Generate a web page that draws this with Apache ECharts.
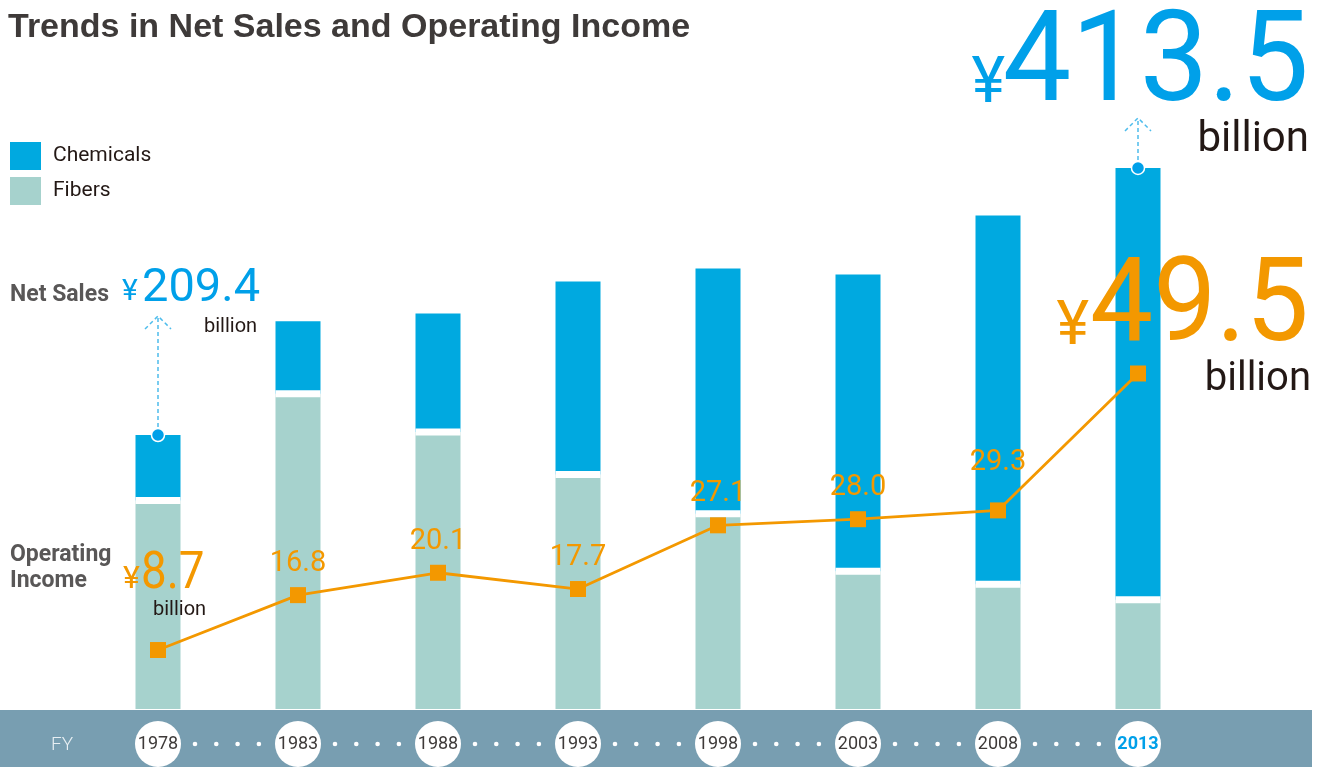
<!doctype html>
<html>
<head>
<meta charset="utf-8">
<title>Trends in Net Sales and Operating Income</title>
<script src="https://cdn.jsdelivr.net/npm/echarts@6/dist/echarts.min.js"></script>
<style>
  html, body { margin: 0; padding: 0; background: #fff; }
  #main { width: 1330px; height: 767px; }
</style>
</head>
<body>
<div id="main"></div>
<script>
// data (billions of yen)
var years = ['1978', '1983', '1988', '1993', '1998', '2003', '2008', '2013'];
var chemicals = [50.1, 55.4, 90.6, 147.5, 187.4, 226.8, 281.8, 330.1];
var fibers = [159.3, 241.0, 211.7, 179.2, 149.2, 105.3, 95.3, 83.4];
var operatingIncome = [8.7, 16.8, 20.1, 17.7, 27.1, 28.0, 29.3, 49.5];

var BLUE = '#00a9e0';
var TEAL = '#a6d2cd';
var ORANGE = '#f39800';
var TXT_BLUE = '#00a0e9';
var FONT = 'Roboto, "Liberation Sans", sans-serif';

var chart = echarts.init(document.getElementById('main'));

// line labels: first and last are the big call-outs instead
var incomeData = operatingIncome.map(function (v, i) {
  var item = { value: v };
  if (i === 0 || i === operatingIncome.length - 1) {
    item.label = { show: false };
  } else if (i === 6) {
    item.label = { distance: 25 };
  }
  return item;
});

var option = {
  animation: false,
  grid: { left: 88, right: 122, top: 60, bottom: 57 },
  legend: {
    data: ['Chemicals', 'Fibers'],
    orient: 'vertical',
    left: 10,
    top: 142,
    padding: 0,
    itemWidth: 31,
    itemHeight: 28,
    itemGap: 7,
    icon: 'rect',
    textStyle: { fontFamily: FONT, fontSize: 21, color: '#231815', padding: [3, 0, 0, 7] }
  },
  xAxis: {
    type: 'category',
    data: years,
    z: 10,
    axisLine: { show: false },
    axisTick: { show: false },
    axisLabel: {
      interval: 0,
      margin: 12,
      formatter: function (v, i) {
        return i === years.length - 1 ? '{b|' + v + '}' : '{a|' + v + '}';
      },
      rich: {
        a: {
          width: 46, height: 46, lineHeight: 46, align: 'center',
          backgroundColor: '#fff', borderRadius: 23,
          fontFamily: FONT, fontSize: 18, color: '#3e3a39'
        },
        b: {
          width: 46, height: 46, lineHeight: 46, align: 'center',
          backgroundColor: '#fff', borderRadius: 23,
          fontFamily: FONT, fontSize: 18, fontWeight: 'bold', color: TXT_BLUE
        }
      }
    }
  },
  yAxis: [
    { type: 'value', min: 0, max: 496, show: false, splitLine: { show: false } },
    { type: 'value', min: 0, max: 95.75, show: false, splitLine: { show: false } }
  ],
  series: [
    {
      name: 'Fibers',
      type: 'bar',
      stack: 'sales',
      barWidth: 45,
      itemStyle: { color: TEAL },
      z: 2,
      data: fibers
    },
    {
      name: 'Chemicals',
      type: 'bar',
      stack: 'sales',
      barWidth: 45,
      itemStyle: { color: BLUE },
      z: 2,
      data: chemicals
    },
    {
      // white gap between the two stacked segments
      name: 'gap',
      type: 'scatter',
      symbol: 'rect',
      symbolSize: [45, 7],
      itemStyle: { color: '#fff', opacity: 1 },
      silent: true,
      z: 3,
      data: fibers
    },
    {
      name: 'Operating Income',
      type: 'line',
      yAxisIndex: 1,
      symbol: 'rect',
      symbolSize: 16,
      itemStyle: { color: ORANGE },
      lineStyle: { color: ORANGE, width: 2.8 },
      z: 5,
      label: {
        show: true,
        position: 'top',
        distance: 9,
        fontFamily: FONT,
        fontSize: 29,
        color: ORANGE,
        formatter: function (p) { return p.value.toFixed(1); }
      },
      data: incomeData
    }
  ]
};

chart.setOption(option);

// decorations and call-outs placed from the chart's own scales
function px(i, v) {
  return chart.convertToPixel({ gridIndex: 0 }, [i, v]);
}

function txt(x, y, text, size, color, weight, align, sx, family) {
  return {
    type: 'text', x: x, y: y, z: 20, scaleX: sx || 1,
    style: {
      text: text, fill: color, fontFamily: family || FONT, fontSize: size,
      fontWeight: weight || 'normal', align: align || 'left', verticalAlign: 'middle'
    }
  };
}

function arrow(i, len) {
  var p = px(i, chemicals[i] + fibers[i]);
  var x = p[0], y = p[1], tip = y - len;
  var dash = { stroke: '#4dbcec', lineWidth: 1.5, lineDash: [4, 3], fill: null };
  return [
    { type: 'line', z: 15, shape: { x1: x, y1: y - 8, x2: x, y2: tip }, style: dash },
    { type: 'polyline', z: 15, shape: { points: [[x - 13, tip + 13], [x, tip], [x + 13, tip + 13]] }, style: dash },
    { type: 'circle', z: 16, shape: { cx: x, cy: y, r: 6.5 }, style: { fill: TXT_BLUE, stroke: '#fff', lineWidth: 1.5 } }
  ];
}

var g = [];
// bottom band
g.push({ type: 'rect', z: 1, shape: { x: 0, y: 710, width: 1312, height: 57 }, style: { fill: '#789eb1' } });
g.push(txt(62, 745, 'FY', 19, '#e8eff3', 300, 'center'));
// dots between years
for (var i = 0; i < years.length - 1; i++) {
  var cx = px(i, 0)[0];
  for (var k = 0; k < 4; k++) {
    g.push({ type: 'circle', z: 2, shape: { cx: cx + 37 + 21.3 * k, cy: 744, r: 2.3 }, style: { fill: '#fff' } });
  }
}

// title
g.push(txt(8, 28, 'Trends in Net Sales and Operating Income', 34, '#3e3a39', 'bold', 'left', 1, '"Liberation Sans", Arial, sans-serif'));

// net sales call-outs
g.push(txt(10, 295, 'Net Sales', 23, '#595757', 'bold'));
g.push(txt(122, 292, '¥', 30, TXT_BLUE));
g.push(txt(142, 289, '209.4', 47, TXT_BLUE));
g.push(txt(204, 327, 'billion', 20, '#231815'));
g = g.concat(arrow(0, 119));

g.push(txt(1005, 86, '¥', 64, TXT_BLUE, 'normal', 'right'));
g.push(txt(1309, 68, '413.5', 127, TXT_BLUE, 'normal', 'right', 0.96));
g.push(txt(1309, 140, 'billion', 42, '#231815', 'normal', 'right'));
g = g.concat(arrow(7, 50));

// operating income call-outs
g.push(txt(10, 555, 'Operating', 23, '#595757', 'bold'));
g.push(txt(10, 581, 'Income', 23, '#595757', 'bold'));
g.push(txt(123, 580, '¥', 32, ORANGE));
g.push(txt(141, 575, '8.7', 52, ORANGE, 'normal', 'left', 0.88));
g.push(txt(153, 610, 'billion', 20, '#231815'));

g.push(txt(1089, 328, '¥', 62, ORANGE, 'normal', 'right'));
g.push(txt(1309, 311, '49.5', 117, ORANGE, 'normal', 'right', 0.96));
g.push(txt(1311, 380, 'billion', 40, '#231815', 'normal', 'right'));

chart.setOption({ graphic: g });
</script>
</body>
</html>
